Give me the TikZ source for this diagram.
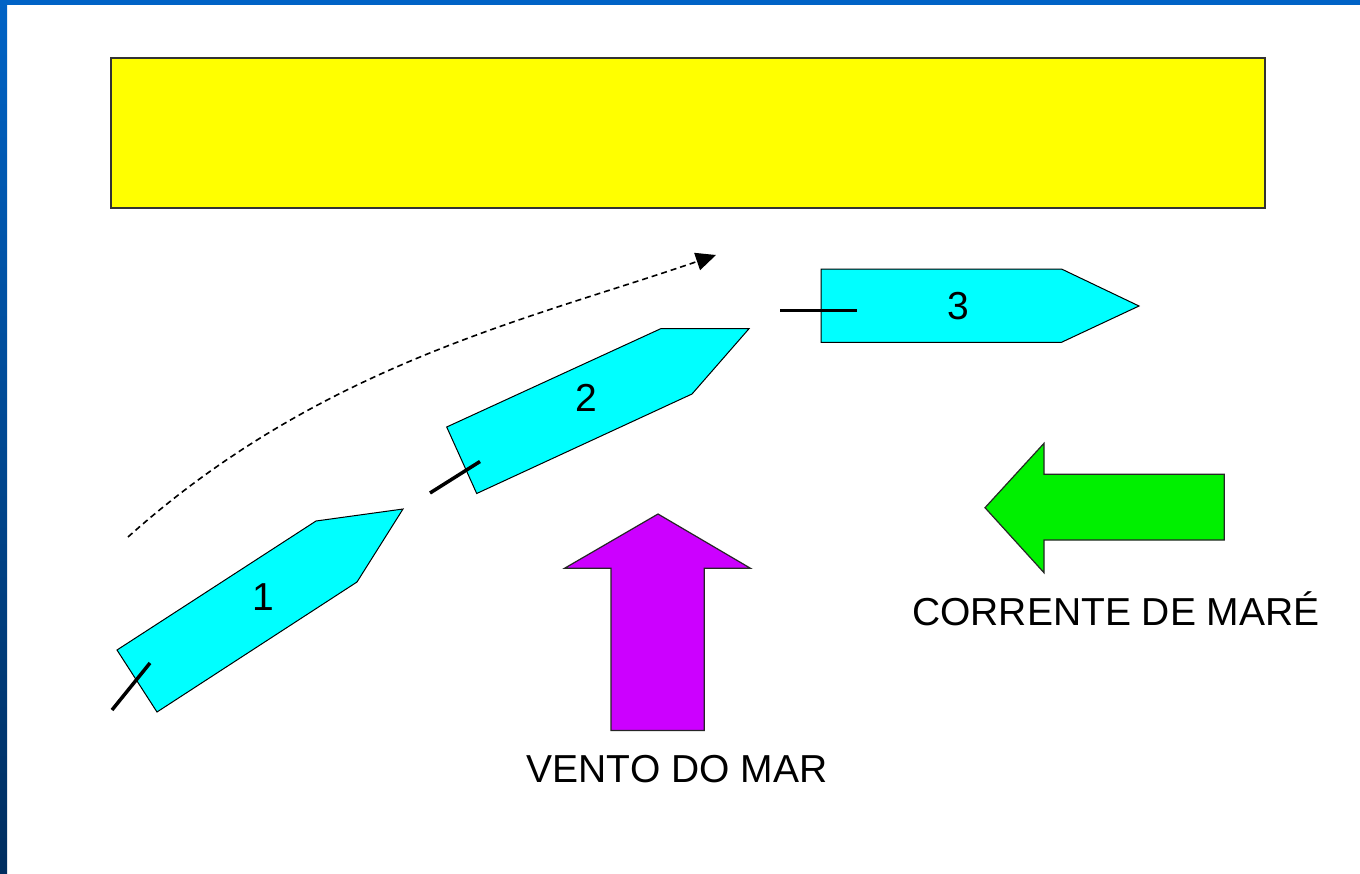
\documentclass[tikz,border=0pt]{standalone}
\usepackage{fontspec}
\setmainfont{Liberation Sans}
\usetikzlibrary{arrows.meta}
\definecolor{slideblue}{RGB}{0,99,198}
\definecolor{slidenavy}{RGB}{0,45,94}
\definecolor{boatcyan}{RGB}{0,255,255}
\definecolor{windpurple}{RGB}{204,0,255}
\definecolor{tidegreen}{RGB}{0,240,0}
\definecolor{pieryellow}{RGB}{255,255,0}
\tikzset{
  boat/.style={fill=boatcyan, draw=black, line width=1pt, line join=miter},
  mooring/.style={draw=black, line width=3.5pt},
  bigarrow/.style={draw=black!85, line width=1.2pt},
  label/.style={font=\fontsize{39}{47}\selectfont, inner sep=0pt},
  track/.style={draw=black, line width=1.6pt, dash pattern=on 6pt off 4pt, -{Triangle[length=20pt,width=18pt]}}
}
\begin{document}
\begin{tikzpicture}[x=1pt,y=-1pt]
\useasboundingbox (0,0) rectangle (1360,873);
% slide background
\fill[white] (0,0) rectangle (1365,878);
\shade[top color=slideblue, bottom color=slidenavy] (-2,-2) rectangle (7,878);
\fill[slideblue] (-2,-2) rectangle (1365,5);
% pier
\draw[fill=pieryellow, draw=black!80, line width=1.6pt] (111,58) rectangle (1265,208);
% dashed track
\coordinate (trackstart) at (128,537);
\coordinate (trackend) at (716,255);
\draw[track] (trackstart) .. controls (320,365) and (527,320) .. (trackend);
% boat 1
\draw[boat] (117,650) -- (157,712) -- (357,582) -- (403,509) -- (316,521) -- cycle;
\node[label] (b1) at (263,597) {1};
\coordinate (m1a) at (112,710);
\coordinate (m1b) at (150,663);
\draw[mooring] (m1a) -- (m1b);
% boat 2
\draw[boat] (446.7,427) -- (476.7,493.5) -- (692,394) -- (749,328.7) -- (660.7,328.7) -- cycle;
\node[label] (b2) at (586,398) {2};
\coordinate (m2a) at (430,493);
\coordinate (m2b) at (480,461.5);
\draw[mooring] (m2a) -- (m2b);
% boat 3
\draw[boat] (821,269) -- (1061.5,269) -- (1139,306) -- (1061.5,342.3) -- (821,342.3) -- cycle;
\node[label] (b3) at (958,306.5) {3};
\coordinate (m3a) at (780,310.3);
\coordinate (m3b) at (857,310.3);
\draw[mooring] (m3a) -- (m3b);
% wind arrow
\draw[bigarrow, fill=windpurple] (658,514) -- (750.5,568.3) -- (704.3,568.3) -- (704.3,730.5) -- (611,730.5) -- (611,568.3) -- (564.5,568.3) -- cycle;
\node[label, anchor=base] (wind) at (677,782) {VENTO DO MAR};
% tide arrow
\draw[bigarrow, fill=tidegreen] (985,507.7) -- (1044,443.3) -- (1044,474.3) -- (1224.3,474.3) -- (1224.3,540) -- (1044,540) -- (1044,572.7) -- cycle;
\node[label, anchor=base] (tide) at (1116,625) {CORRENTE DE MARÉ};
\end{tikzpicture}
\end{document}
